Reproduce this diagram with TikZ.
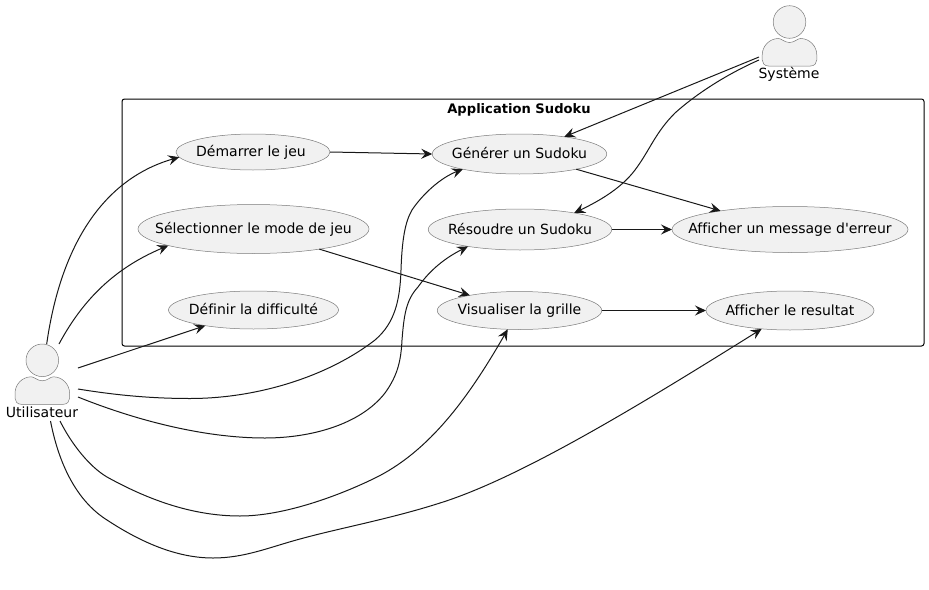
\documentclass[tikz,border=0pt]{standalone}
\usepackage{fontspec}
\setmainfont{DejaVu Sans}
\newfontfamily\djv[Ligatures=NoCommon]{DejaVu Sans}
\usetikzlibrary{shapes.geometric,arrows.meta}
\definecolor{ucfill}{HTML}{F1F1F1}
\definecolor{ucline}{HTML}{181818}
\definecolor{ucedge}{HTML}{7A7A7A}
\newcommand{\uctext}[1]{\makebox[0pt][c]{\raisebox{1.5pt}{#1}}}
\tikzset{
  usecase/.style={ellipse,draw=ucedge,line width=0.5pt,fill=ucfill,inner sep=0pt,outer sep=0pt,font=\djv\fontsize{14}{16}\selectfont,text=black},
  actorlabel/.style={inner sep=0pt,font=\djv\fontsize{14}{16}\selectfont,text=black},
  link/.style={draw=ucline,line width=1pt,-{Stealth[length=11pt,width=10pt,inset=4pt]}},
  actorfig/.pic={
    \draw[draw=ucedge,line width=0.5pt,fill=ucfill] (0,0) circle[radius=16.3];
    \draw[draw=ucedge,line width=0.5pt,fill=ucfill] (-21,44) -- (21,44)
      .. controls (25,44) and (27.3,41) .. (27.3,38) -- (27.3,33)
      .. controls (27.3,24) and (20,16.5) .. (11,16.5)
      .. controls (8,16.5) and (5,20.5) .. (0,20.5)
      .. controls (-5,20.5) and (-8,16.5) .. (-11,16.5)
      .. controls (-20,16.5) and (-27.3,24) .. (-27.3,33) -- (-27.3,38)
      .. controls (-27.3,41) and (-25,44) .. (-21,44) -- cycle;
  }
}
\begin{document}
\begin{tikzpicture}[x=1pt,y=-1pt]
\useasboundingbox (0,0) rectangle (929,589);
\node[draw=black,line width=1pt,rounded corners=2.5pt,minimum width=802pt,minimum height=247pt,inner sep=0pt,outer sep=0pt] (B) at (523,222.5) {};
\node[actorlabel,font=\djv\fontsize{13.1}{16}\selectfont\bfseries] (T) at (519,109.5) {Application Sudoku};

\node[usecase,minimum width=154pt,minimum height=36pt] (D) at (253,152) {\uctext{\hspace*{-4pt}Démarrer le jeu}};
\node[usecase,minimum width=231pt,minimum height=49pt] (C) at (253.5,229) {\uctext{Sélectionner le mode de jeu}};
\node[usecase,minimum width=170pt,minimum height=38pt] (F) at (253.5,310) {\uctext{Définir la difficulté}};
\node[usecase,minimum width=174.5pt,minimum height=40pt] (G) at (519.5,154) {\uctext{Générer un Sudoku}};
\node[usecase,minimum width=183.5pt,minimum height=41pt] (R) at (520,229.5) {\uctext{Résoudre un Sudoku}};
\node[usecase,minimum width=164.5pt,minimum height=38pt] (V) at (519.5,310.5) {\uctext{Visualiser la grille}};
\node[usecase,minimum width=236pt,minimum height=46pt] (E) at (790,229.5) {\uctext{Afficher un message d'erreur}};
\node[usecase,minimum width=168pt,minimum height=39pt] (A) at (790,310.5) {\uctext{Afficher le resultat}};

\pic at (42.3,360.3) {actorfig};
\node[actorlabel] (U) at (42,412) {Utilisateur};
\pic at (789.5,22) {actorfig};
\node[actorlabel] (S) at (789,74) {Système};

% Utilisateur
\draw[link] ([shift={(4.7,-68)}]U.center) .. controls (60,250) and (100,180) .. (D.184.7);
\draw[link] ([shift={(17,-68)}]U.center) .. controls (80,305) and (110,270) .. (C.191.6);
\draw[link] ([shift={(36,-44)}]U.center) -- (F.198.8);
\draw[link] ([shift={(36,-23)}]U.center) .. controls (115,395) and (150,398.5) .. (190,398.5)
  .. controls (260,398.5) and (330,375) .. (375,340)
  .. controls (395,323) and (400,300) .. (401,270)
  .. controls (402,240) and (405,222) .. (412,210)
  .. controls (422,195) and (440,178) .. (G.195.5);
\draw[link] ([shift={(36,-15)}]U.center) .. controls (130,418) and (200,438) .. (265,438)
  .. controls (310,438) and (360,425) .. (385,393)
  .. controls (398,375) and (401,360) .. (402,340)
  .. controls (404,315) and (406,300) .. (418,287)
  .. controls (430,270) and (445,258) .. (R.198);
\draw[link] ([shift={(18,9)}]U.center) .. controls (72,445) and (90,467) .. (107,477)
  .. controls (145,498) and (190,516) .. (240,516)
  .. controls (285,516) and (340,495) .. (373,479)
  .. controls (430,452) and (470,395) .. (V.238);
\draw[link] ([shift={(8.5,9)}]U.center) .. controls (60,470) and (80,503) .. (107,520)
  .. controls (145,545) and (180,558) .. (213,558)
  .. controls (245,558) and (270,547) .. (300,539)
  .. controls (340,528) and (390,519) .. (440,503)
  .. controls (520,478) and (640,405) .. (A.213);

% Système
\draw[link] ([shift={(-30,-17)}]S.center) -- (G.21.3);
\draw[link] ([shift={(-30,-14)}]S.center) .. controls (725,75) and (695,95) .. (675,113)
  .. controls (655,133) and (650,150) .. (635,170)
  .. controls (620,190) and (595,203) .. (R.17.8);

% Cas d'utilisation
\draw[link] (D.east) -- (G.west);
\draw[link] (G.-15) -- (E.165.6);
\draw[link] (R.east) -- (E.west);
\draw[link] (C.-17.2) -- (V.163);
\draw[link] (V.east) -- (A.west);
\end{tikzpicture}
\end{document}
